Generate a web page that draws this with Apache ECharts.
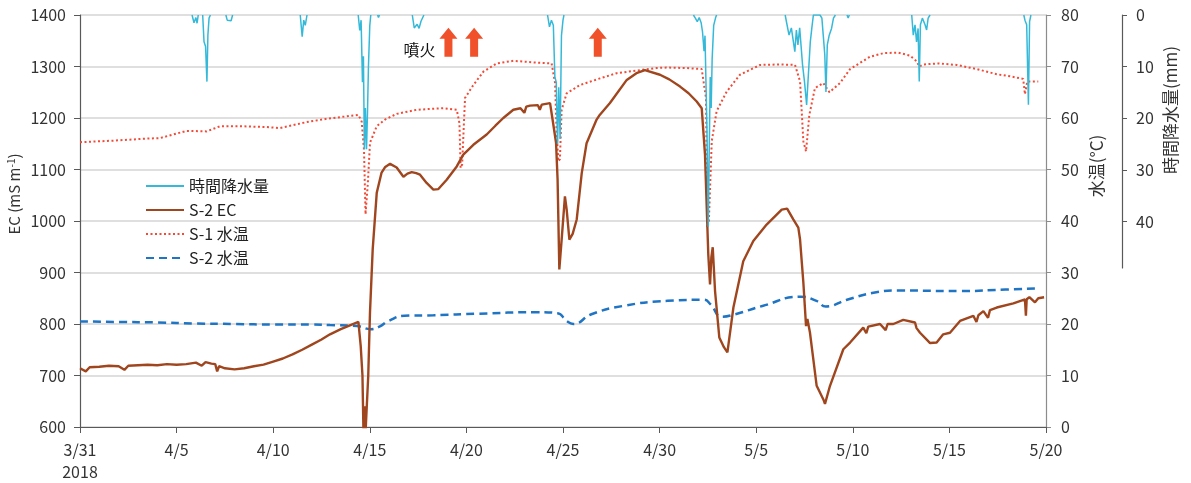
<!DOCTYPE html>
<html>
<head>
<meta charset="utf-8">
<script src="https://cdn.jsdelivr.net/npm/echarts@6/dist/echarts.min.js"></script>
<style>
html,body{margin:0;padding:0;background:#fff;}
#chart{width:1191px;height:483px;}
</style>
</head>
<body>
<div id="chart"></div>
<script>
// x = days since 2018-03-31
const xTickLabels = ['3/31\n2018','4/5','4/10','4/15','4/20','4/25','4/30','5/5','5/10','5/15','5/20'];

// S-2 EC (mS m-1)
const ecData = [
[0,714],[0.3,708],[0.5,716],[1,717],[1.5,719],[2,718],[2.3,711],[2.5,719],[3,720],[3.5,721],[4,720],[4.5,722],[5,721],[5.5,722],[6,725],[6.3,719],[6.5,726],[6.8,723],[7,722],[7.1,708],[7.2,718],[7.5,714],[8,712],[8.5,714],[9,718],[9.5,721],[10,727],[10.5,733],[11,741],[11.5,750],[12,760],[12.5,770],[12.94,780],[13.5,790],[14,798],[14.41,804],[14.53,757],[14.62,700],[14.67,595],[14.72,640],[14.78,590],[14.85,590],[14.92,700],[15.01,823],[15.15,945],[15.36,1055],[15.61,1094],[15.8,1105],[16.05,1111],[16.39,1104],[16.74,1086],[16.95,1092],[17.17,1095],[17.4,1093],[17.6,1090],[17.94,1074],[18.29,1061],[18.55,1062],[18.98,1080],[19.5,1106],[19.84,1129],[20.36,1148],[21.05,1168],[21.5,1185],[21.91,1200],[22.43,1216],[22.8,1219],[23.0,1210],[23.1,1222],[23.29,1224],[23.7,1225],[23.8,1216],[23.9,1226],[24.0,1226],[24.33,1229],[24.46,1197],[24.64,1152],[24.72,1080],[24.81,906],[24.93,964],[25.1,1048],[25.19,1022],[25.33,964],[25.5,975],[25.71,1003],[25.97,1093],[26.22,1151],[26.74,1197],[26.9,1206],[27.43,1229],[28.3,1274],[28.8,1287],[29.24,1293],[30.02,1284],[30.5,1275],[31.06,1261],[31.5,1248],[31.92,1232],[32.18,1219],[32.35,1129],[32.44,1026],[32.52,935],[32.61,877],[32.68,930],[32.75,949],[32.87,864],[33.09,774],[33.33,755],[33.51,745],[33.82,832],[34.33,922],[34.85,961],[35.54,993],[36.32,1022],[36.6,1024],[36.92,1003],[37.18,987],[37.27,964],[37.44,881],[37.58,796],[37.65,810],[37.78,784],[38.13,680],[38.47,654],[38.56,645],[38.82,680],[39.51,751],[39.86,764],[40.54,793],[40.7,782],[40.8,795],[41.41,800],[41.7,788],[41.8,800],[42.1,800],[42.61,808],[43.22,803],[43.3,792],[43.48,783],[44.0,763],[44.34,764],[44.68,780],[45.03,783],[45.55,806],[46.24,816],[46.4,804],[46.5,817],[46.76,825],[47.0,812],[47.1,827],[47.45,832],[48.31,840],[48.91,848],[48.96,816],[49.0,848],[49.14,852],[49.43,842],[49.6,850],[49.9,852]
];

// S-1 water temperature (°C)
const s1Data = [
[0,55.3],[1.72,55.6],[3.45,56.0],[4.14,56.1],[5.52,57.5],[6.56,57.4],[7.25,58.4],[8.28,58.4],[9.66,58.25],[10.35,58.05],[11.73,59.2],[12.77,59.85],[14.41,60.6],[14.58,59.3],[14.7,53.8],[14.78,41.3],[14.85,41.5],[14.9,47.4],[15.01,55.2],[15.36,58.4],[15.79,59.7],[16.39,60.8],[17.43,61.6],[18.8,61.9],[19.5,61.6],[19.64,59.0],[19.7,50.3],[19.78,51],[19.86,58],[19.93,63.9],[20.36,66.4],[20.88,69.0],[21.57,70.6],[22.43,71.1],[23.46,70.8],[24.41,70.6],[24.59,66.8],[24.67,57.1],[24.76,51.6],[24.84,52],[24.93,61.6],[25.19,64.8],[25.88,66.4],[26.92,67.7],[27.78,68.7],[28.99,69.3],[29.85,69.7],[30.36,69.8],[31.4,69.7],[32.18,69.5],[32.4,63.9],[32.47,38.7],[32.55,40],[32.7,55.5],[32.95,61.3],[33.47,65.1],[34.16,68.4],[35.2,70.3],[36.23,70.4],[37.01,70.3],[37.27,67.1],[37.44,55.5],[37.58,53.5],[37.75,60.6],[38.04,65.8],[38.47,66.8],[38.79,65.0],[39.34,66.8],[39.86,69.5],[40.89,71.9],[41.6,72.6],[42.36,72.7],[42.96,72.1],[43.31,71.0],[43.44,70.0],[43.65,70.4],[44.43,70.6],[45.38,70.3],[46.41,69.5],[47.45,68.5],[48.14,68.1],[48.82,67.6],[48.91,64.6],[49.03,67.1],[49.6,67.1]
];

// S-2 water temperature (°C)
const s2Data = [
[0,20.5],[2,20.4],[4,20.3],[6,20.1],[8,20.0],[10,19.9],[12,19.9],[12.94,19.8],[14.34,19.6],[15.04,19.0],[15.5,19.5],[15.97,20.6],[16.79,21.6],[18.3,21.7],[20.63,22.0],[23.66,22.3],[24.72,22.1],[25.18,20.6],[25.53,20.0],[26.47,21.9],[28.1,23.5],[30.42,24.5],[32.29,24.7],[32.64,23.8],[33.22,21.4],[33.92,21.9],[35.32,23.5],[37.3,25.3],[38.12,24.5],[38.6,23.4],[39.7,24.7],[41,26],[42.3,26.5],[45.6,26.4],[47.9,26.7],[49.6,26.9]
];

// hourly precipitation (mm); null = no rain between events
const rainData = [
[5.8,0],[5.9,1.5],[6.0,0.5],[6.06,1.6],[6.12,0],[6.2,null],
[6.35,0],[6.42,5.2],[6.5,6.1],[6.57,12.9],[6.62,3.9],[6.68,0.6],[6.75,0],[7.0,null],
[7.55,0],[7.62,1.0],[7.72,0.8],[7.82,1.1],[7.9,0],[8.5,null],
[11.4,0],[11.5,4.2],[11.58,1],[11.66,2],[11.75,0],[12.5,null],
[14.4,0],[14.48,3],[14.55,1],[14.62,13],[14.67,8],[14.72,26],[14.77,18],[14.83,26],[14.88,19],[14.93,10],[15.0,2],[15.05,0],[15.2,null],
[15.4,0],[15.45,0.5],[15.5,0],[16,null],
[17.2,0],[17.3,2.5],[17.45,1.8],[17.55,2.6],[17.65,1.2],[17.8,0],[18.5,null],
[24.2,0],[24.3,2.3],[24.4,1],[24.5,2],[24.58,12],[24.65,13],[24.72,25],[24.78,14],[24.85,24],[24.92,4],[25.0,1],[25.05,0],[26,null],
[31.75,0],[31.85,0.6],[31.95,1.3],[32.05,0.5],[32.15,1.5],[32.22,3.2],[32.3,7],[32.35,4],[32.4,13],[32.45,22],[32.52,41],[32.57,26],[32.62,12],[32.67,18],[32.72,8.5],[32.8,2],[32.9,0.5],[32.95,0],[34,null],
[36.5,0],[36.58,1.6],[36.7,3.9],[36.82,2.5],[37.0,7.1],[37.08,2.9],[37.16,5.8],[37.25,2.5],[37.4,9.7],[37.5,12.9],[37.61,17.4],[37.7,11.6],[37.8,5.2],[37.88,2.5],[37.96,0],[38.3,0],[38.4,0.6],[38.47,3.9],[38.55,7.7],[38.61,14.9],[38.68,5.8],[38.78,3.9],[38.9,2.6],[39.0,0.6],[39.1,0],[39.4,null],
[39.7,0],[39.76,0.6],[39.82,0],[40.5,null],
[43.05,0],[43.13,3.9],[43.22,1.9],[43.3,5.2],[43.38,2.6],[43.44,12.9],[43.5,1.9],[43.6,0.6],[43.74,1.9],[43.82,2.9],[43.9,0.6],[44.0,0],[45,null],
[48.85,0],[48.91,1],[49.0,1.9],[49.09,17.4],[49.15,1.3],[49.22,0]
];

// eruption dates (days since 3/31) marked with arrows
const eruptionDays = [19.07, 20.4, 26.8];
const eruptionLabel = '噴火';

const FONT = '"Noto Sans CJK JP", "Noto Sans", sans-serif';
const chart = echarts.init(document.getElementById('chart'), null, {renderer:'canvas'});

const arrowPath = 'path://M9,0 L18,11 L13,11 L13,29 L5,29 L5,11 L0,11 Z';

const option = {
  animation: false,
  backgroundColor: '#fff',
  textStyle: {fontFamily: FONT},
  grid: [
    {left: 80, right: 145, top: 15, bottom: 55, containLabel: false},
    {left: 80, right: 145, top: 15, bottom: 215, containLabel: false}
  ],
  legend: {
    data: ['時間降水量','S-2 EC','S-1 水温','S-2 水温'],
    orient: 'vertical',
    left: 140, top: 173,
    itemWidth: 38, itemHeight: 14, itemGap: 8,
    itemStyle: {opacity: 0},
    textStyle: {fontSize: 16, color: '#222', fontFamily: FONT},
    backgroundColor: 'rgba(255,255,255,0)'
  },
  xAxis: [
    {
      type: 'value', gridIndex: 0, min: 0, max: 50, interval: 5,
      axisLine: {onZero: false, lineStyle: {color: '#595959', width: 1.2}},
      axisTick: {show: true, length: 6, lineStyle: {color: '#595959'}},
      axisLabel: {fontSize: 16, color: '#333', margin: 12, lineHeight: 22, fontFamily: FONT,
        formatter: v => xTickLabels[Math.round(v/5)] || ''},
      splitLine: {show: false}
    },
    {type: 'value', gridIndex: 1, min: 0, max: 50, show: false}
  ],
  yAxis: [
    {
      type: 'value', gridIndex: 0, min: 600, max: 1400, interval: 100, position: 'left',
      axisLine: {show: true, onZero: false, lineStyle: {color: '#595959', width: 1.2}},
      axisTick: {show: true, length: 6, lineStyle: {color: '#595959'}},
      axisLabel: {fontSize: 16, color: '#333', margin: 14, fontFamily: FONT, formatter: v => String(v)},
      splitLine: {show: true, lineStyle: {color: '#D4D4D4', width: 1.5}}
    },
    {
      type: 'value', gridIndex: 0, min: 0, max: 80, interval: 10, position: 'right',
      axisLine: {show: true, onZero: false, lineStyle: {color: '#8C8C8C', width: 1.2}},
      axisTick: {show: true, length: 5, lineStyle: {color: '#8C8C8C'}},
      axisLabel: {fontSize: 16, color: '#333', margin: 15, fontFamily: FONT, formatter: v => String(v)},
      splitLine: {show: false}
    },
    {
      type: 'value', gridIndex: 1, min: 0, max: 49, inverse: true, position: 'right', offset: 76,
      axisLine: {show: true, onZero: false, lineStyle: {color: '#595959', width: 1.2}},
      axisTick: {show: true, length: 5, customValues: [0,10,20,30,40], lineStyle: {color: '#595959'}},
      axisLabel: {fontSize: 16, color: '#333', margin: 14, fontFamily: FONT, customValues: [0,10,20,30,40], formatter: v => String(v)},
      splitLine: {show: false}
    }
  ],
  series: [
    {
      name: 'S-1 水温', type: 'line', xAxisIndex: 0, yAxisIndex: 1, data: s1Data,
      showSymbol: false, symbol: 'none', smooth: false,
      lineStyle: {color: '#F24A36', width: 2, type: [2, 2.5]},
      itemStyle: {color: '#F24A36'}
    },
    {
      name: 'S-2 水温', type: 'line', xAxisIndex: 0, yAxisIndex: 1, data: s2Data,
      showSymbol: false, symbol: 'none', smooth: true,
      lineStyle: {color: '#1F74C4', width: 2.5, type: [8, 5]},
      itemStyle: {color: '#1F74C4'}
    },
    {
      name: 'S-2 EC', type: 'line', xAxisIndex: 0, yAxisIndex: 0, data: ecData,
      showSymbol: false, symbol: 'none',
      lineStyle: {color: '#A0461F', width: 2.4},
      itemStyle: {color: '#A0461F'}
    },
    {
      name: '時間降水量', type: 'line', xAxisIndex: 1, yAxisIndex: 2,
      data: rainData.map(p => p[1] === null ? [p[0], '-'] : p),
      showSymbol: false, symbol: 'none', connectNulls: false,
      lineStyle: {color: '#35B9D9', width: 1.5},
      itemStyle: {color: '#35B9D9'}
    },
    {
      name: 'eruption', type: 'scatter', xAxisIndex: 0, yAxisIndex: 0,
      symbol: arrowPath, symbolSize: [18, 29],
      itemStyle: {color: '#F0502A', opacity: 1},
      data: eruptionDays.map((d, i) => ({
        value: [d, 1347],
        label: i === 0 ? {show: true, position: 'left', distance: 4, offset: [0, 8],
          formatter: eruptionLabel, fontSize: 16, color: '#111', fontFamily: FONT} : {show: false}
      })),
      z: 5
    }
  ],
  graphic: [
    {type: 'text', x: 14, y: 194, rotation: Math.PI/2,
      style: {text: 'EC (mS m{sup|-1})', fontSize: 15, fill: '#333', fontFamily: FONT, align: 'center', verticalAlign: 'middle',
        rich: {sup: {fontSize: 10, verticalAlign: 'top', fontFamily: FONT, fill: '#333'}}}},
    {type: 'text', x: 1097, y: 166, rotation: Math.PI/2,
      style: {text: '水温(°C)', fontSize: 17, fill: '#333', fontFamily: FONT, align: 'center', verticalAlign: 'middle'}},
    {type: 'text', x: 1171, y: 110, rotation: Math.PI/2,
      style: {text: '時間降水量(mm)', fontSize: 17, fill: '#333', fontFamily: FONT, align: 'center', verticalAlign: 'middle'}}
  ]
};
chart.setOption(option);
</script>
</body>
</html>
